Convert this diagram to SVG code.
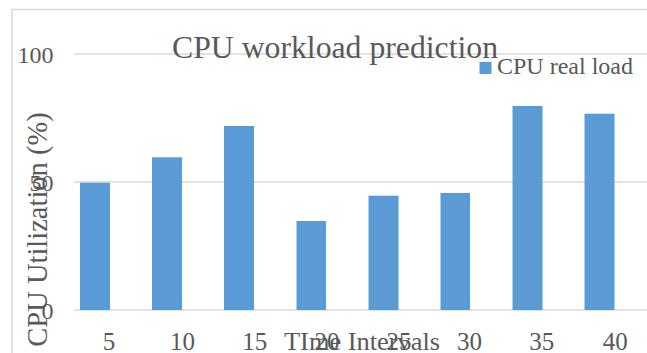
<svg xmlns="http://www.w3.org/2000/svg" width="647" height="353" viewBox="0 0 647 353">
<style>
.t{font-family:"Liberation Serif","Times New Roman",serif;fill:#595959}
.grid{stroke:#D9D9D9;stroke-width:1.5;fill:none}
.bar{fill:#5B9BD5}
.tick{font-size:25px;text-anchor:middle}
.ytick{font-size:24px;text-anchor:end}
</style>
<rect width="647" height="353" fill="#fff"/>
<rect x="12" y="9.5" width="700" height="400" fill="#fff" stroke="#D9D9D9" stroke-width="1.5"/>
<g id="gridlines">
<line class="grid" x1="74" y1="54" x2="647" y2="54"/>
<line class="grid" x1="74" y1="182" x2="647" y2="182"/>
<line class="grid" x1="74" y1="310" x2="647" y2="310"/>
</g>
<g id="bars">
<rect class="bar" x="80" y="182.7" width="30" height="127.3"/>
<rect class="bar" x="152" y="157.3" width="30" height="152.7"/>
<rect class="bar" x="224" y="126" width="30" height="184"/>
<rect class="bar" x="296.5" y="221" width="29.5" height="89"/>
<rect class="bar" x="368.5" y="195.7" width="30" height="114.3"/>
<rect class="bar" x="440.5" y="193" width="29.5" height="117"/>
<rect class="bar" x="512.5" y="106" width="30" height="204"/>
<rect class="bar" x="584.5" y="113.7" width="30" height="196.3"/>
</g>
<g id="y-ticks">
<text class="t ytick" x="53.5" y="63">100</text>
<text class="t ytick" x="53.5" y="191">50</text>
<text class="t ytick" x="53.5" y="319">0</text>
</g>
<g id="x-ticks">
<text class="t tick" x="109" y="350">5</text>
<text class="t tick" x="182.5" y="350">10</text>
<text class="t tick" x="254.8" y="350">15</text>
<text class="t tick" x="327" y="350">20</text>
<text class="t tick" x="399" y="350">25</text>
<text class="t tick" x="469.5" y="350">30</text>
<text class="t tick" x="541.8" y="350">35</text>
<text class="t tick" x="615.2" y="350">40</text>
</g>
<text id="title" class="t" x="172" y="58" font-size="31" textLength="326" lengthAdjust="spacingAndGlyphs">CPU workload prediction</text>
<g id="legend">
<rect class="bar" x="479.5" y="62" width="12" height="12"/>
<text class="t" x="497" y="74" font-size="24">CPU real load</text>
</g>
<text id="x-title" class="t" x="284" y="350" font-size="26" textLength="156" lengthAdjust="spacingAndGlyphs">TIme Intervals</text>
<text id="y-title" class="t" font-size="28.5" text-anchor="middle" transform="translate(47,229.5) rotate(-90)">CPU Utilization (%)</text>
</svg>
